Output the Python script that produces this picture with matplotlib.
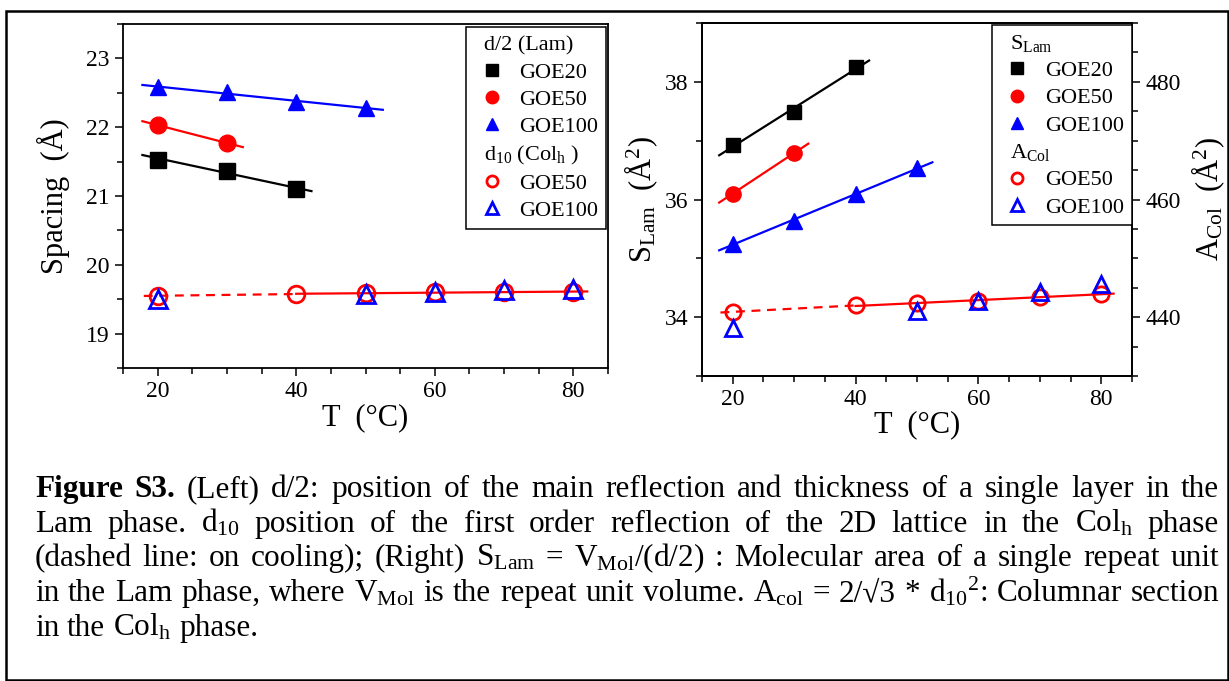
import numpy as np
import matplotlib
matplotlib.use('Agg')
import matplotlib.pyplot as plt
from matplotlib.lines import Line2D
from matplotlib.ticker import MultipleLocator
from matplotlib.patches import Rectangle

plt.rcParams['font.family'] = ['Liberation Serif', 'DejaVu Serif']
plt.rcParams['mathtext.fontset'] = 'custom'
plt.rcParams['mathtext.rm'] = 'Liberation Serif'
plt.rcParams['mathtext.it'] = 'Liberation Serif:italic'
plt.rcParams['mathtext.bf'] = 'Liberation Serif:bold'

# ---------------- data ----------------
T_lam20 = [20, 30, 40]
T_lam50 = [20, 30]
T_lam100 = [20, 30, 40, 50]
T_col50 = [20, 40, 50, 60, 70, 80]
T_col100 = [20, 50, 60, 70, 80]

# left panel: spacing (Å)
d2_goe20 = [21.53, 21.37, 21.10]
d2_goe50 = [22.03, 21.77]
d2_goe100 = [22.58, 22.51, 22.37, 22.28]
d10_goe50 = [19.55, 19.575, 19.59, 19.60, 19.60, 19.61]
d10_goe100 = [19.51, 19.575, 19.61, 19.63, 19.65]

# right panel: S_Lam (Å^2), A_Col (Å^2)
S_goe20 = [36.93, 37.49, 38.25]
S_goe50 = [36.10, 36.79]
S_goe100 = [35.25, 35.63, 36.10, 36.53]
A_goe50 = [440.9, 442.0, 442.4, 442.7, 443.4, 444.0]
A_goe100 = [438.2, 441.0, 442.7, 444.3, 445.7]

# fitted-line extents (T range)
fit_range_20 = (17.8, 42.2)
fit_range_50 = (17.8, 32.3)
fit_range_100 = (17.8, 52.5)
col_dash_range = (18.0, 40.0)
col_solid_range = (40.0, 82.0)

legend_left_labels = ['d/2 (Lam)', 'GOE20', 'GOE50', 'GOE100',
                      r'd$_{10}$ (Col$_{\mathrm{h}}$ )', 'GOE50', 'GOE100']
legend_right_labels = [r'S$_{\mathrm{Lam}}$', 'GOE20', 'GOE50', 'GOE100',
                       r'A$_{\mathrm{Col}}$', 'GOE50', 'GOE100']

BLUE = '#0000ff'
RED = '#ff0000'
BLACK = '#000000'

fig = plt.figure(figsize=(12.29, 6.81), dpi=100)

W, H = 1229.0, 681.0
def ax_rect(x0, y0, x1, y1):
    return [x0 / W, 1 - y1 / H, (x1 - x0) / W, (y1 - y0) / H]

axL = fig.add_axes(ax_rect(123, 24, 608, 368))
axR = fig.add_axes(ax_rect(702, 23, 1132, 376))
axR2 = axR.twinx()


def fit_line(ax, T, y, rng, color, ls='-'):
    p = np.polyfit(T, y, 1)
    xs = np.array(rng)
    ax.plot(xs, np.polyval(p, xs), color=color, lw=1.6, ls=ls, zorder=2)


def style_axes(ax):
    for s in ax.spines.values():
        s.set_linewidth(1.3)
    ax.tick_params(which='both', direction='out', width=1.1, labelsize=17)
    ax.tick_params(which='major', length=6)
    ax.tick_params(which='minor', length=4)
    ax.xaxis.set_major_locator(MultipleLocator(20))
    ax.xaxis.set_minor_locator(MultipleLocator(5))
    ax.set_xlim(15, 85)
    ax.xaxis.set_ticks_position('bottom')


# ---------------- left panel ----------------
style_axes(axL)
axL.set_ylim(18.5, 23.5)
axL.yaxis.set_major_locator(MultipleLocator(1))
axL.yaxis.set_minor_locator(MultipleLocator(0.5))
axL.yaxis.set_ticks_position('left')

fit_line(axL, T_lam20, d2_goe20, fit_range_20, BLACK)
fit_line(axL, T_lam50, d2_goe50, fit_range_50, RED)
fit_line(axL, T_lam100, d2_goe100, fit_range_100, BLUE)
fit_line(axL, T_col50[:2], d10_goe50[:2], col_dash_range, RED, ls=(0, (4, 3)))
fit_line(axL, T_col50[1:], d10_goe50[1:], col_solid_range, RED)

axL.plot(T_lam20, d2_goe20, 's', color=BLACK, ms=11, zorder=3)
axL.plot(T_lam50, d2_goe50, 'o', color=RED, ms=12, zorder=3)
axL.plot(T_lam100, d2_goe100, '^', color=BLUE, ms=12, zorder=3)
axL.plot(T_col50, d10_goe50, 'o', mfc='none', mec=RED, mew=2, ms=12, zorder=3)
axL.plot(T_col100, d10_goe100, '^', mfc='none', mec=BLUE, mew=2, ms=13, zorder=3)

axL.set_ylabel('Spacing  (Å)', fontsize=22, labelpad=12)
axL.set_xlabel('T  (°C)', fontsize=22, labelpad=1)

hL = [Line2D([], [], ls='none'),
      Line2D([], [], ls='none', marker='s', color=BLACK, ms=8),
      Line2D([], [], ls='none', marker='o', color=RED, ms=9),
      Line2D([], [], ls='none', marker='^', color=BLUE, ms=9),
      Line2D([], [], ls='none'),
      Line2D([], [], ls='none', marker='o', mfc='none', mec=RED, mew=2, ms=8),
      Line2D([], [], ls='none', marker='^', mfc='none', mec=BLUE, mew=2, ms=9)]


def make_legend(ax, handles, labels, anchor, headers):
    leg = ax.legend(handles, labels, loc='upper right', bbox_to_anchor=anchor,
                    bbox_transform=ax.transAxes, borderaxespad=0,
                    fontsize=16, frameon=True, fancybox=False, framealpha=1,
                    edgecolor='black', handlelength=1.6, handletextpad=0.45,
                    labelspacing=0.3, borderpad=0.35)
    leg.get_frame().set_linewidth(1.1)
    for col in leg._legend_handle_box.get_children():
        for row in col.get_children():
            h, t = row.get_children()
            txt = t.get_text()
            if not isinstance(txt, str):
                txt = txt.get_text()
            if txt in headers:
                h.width = 0
    return leg


make_legend(axL, hL, legend_left_labels, (0.996, 0.991),
            [legend_left_labels[0], legend_left_labels[4]])

# ---------------- right panel ----------------
style_axes(axR)
axR.set_ylim(33, 39)
axR.yaxis.set_major_locator(MultipleLocator(2))
axR.yaxis.set_minor_locator(MultipleLocator(1))
axR.yaxis.set_ticks_position('left')
axR2.set_ylim(430, 490)
axR2.yaxis.set_major_locator(MultipleLocator(20))
axR2.yaxis.set_minor_locator(MultipleLocator(5))
axR2.tick_params(which='both', direction='out', width=1.1, labelsize=17)
axR2.tick_params(which='major', length=6)
axR2.tick_params(which='minor', length=4)
for s in axR2.spines.values():
    s.set_linewidth(1.3)

fit_line(axR, T_lam20, S_goe20, fit_range_20, BLACK)
fit_line(axR, T_lam50, S_goe50, fit_range_50, RED)
fit_line(axR, T_lam100, S_goe100, fit_range_100, BLUE)
axR.plot(T_lam20, S_goe20, 's', color=BLACK, ms=10, zorder=3)
axR.plot(T_lam50, S_goe50, 'o', color=RED, ms=11, zorder=3)
axR.plot(T_lam100, S_goe100, '^', color=BLUE, ms=11, zorder=3)

fit_line(axR2, T_col50[:2], A_goe50[:2], col_dash_range, RED, ls=(0, (4, 3)))
fit_line(axR2, T_col50[1:], A_goe50[1:], col_solid_range, RED)
axR2.plot(T_col50, A_goe50, 'o', mfc='none', mec=RED, mew=2, ms=11, zorder=3)
axR2.plot(T_col100, A_goe100, '^', mfc='none', mec=BLUE, mew=2, ms=12, zorder=3)

axR.set_ylabel(r'S$_{\mathrm{Lam}}$  (Å$^{2}$)', fontsize=22, labelpad=4)
axR2.set_ylabel(r'A$_{\mathrm{Col}}$  (Å$^{2}$)', fontsize=22, labelpad=6)
axR.set_xlabel('T  (°C)', fontsize=22, labelpad=0)

hR = [Line2D([], [], ls='none'),
      Line2D([], [], ls='none', marker='s', color=BLACK, ms=8),
      Line2D([], [], ls='none', marker='o', color=RED, ms=9),
      Line2D([], [], ls='none', marker='^', color=BLUE, ms=9),
      Line2D([], [], ls='none'),
      Line2D([], [], ls='none', marker='o', mfc='none', mec=RED, mew=2, ms=8),
      Line2D([], [], ls='none', marker='^', mfc='none', mec=BLUE, mew=2, ms=9)]
make_legend(axR2, hR, legend_right_labels, (1.0, 0.994),
            [legend_right_labels[0], legend_right_labels[4]])

# ---------------- caption ----------------
caption_lines = [
    ([('Figure', True), ('S3.', True), ('(Left)', False), ('d/2:', False), ('position', False),
      ('of', False), ('the', False), ('main', False), ('reflection', False), ('and', False),
      ('thickness', False), ('of', False), ('a', False), ('single', False), ('layer', False),
      ('in', False), ('the', False)], True),
    ([(w, False) for w in ['Lam', 'phase.', r'd$_{10}$', 'position', 'of', 'the', 'first',
                           'order', 'reflection', 'of', 'the', '2D', 'lattice', 'in', 'the',
                           r'Col$_{\mathrm{h}}$', 'phase']], True),
    ([(w, False) for w in ['(dashed', 'line:', 'on', 'cooling);', '(Right)',
                           r'S$_{\mathrm{Lam}}$', '=', r'V$_{\mathrm{Mol}}$/(d/2)', ':',
                           'Molecular', 'area', 'of', 'a', 'single', 'repeat', 'unit']], True),
    ([(w, False) for w in ['in', 'the', 'Lam', 'phase,', 'where', r'V$_{\mathrm{Mol}}$', 'is',
                           'the', 'repeat', 'unit', 'volume.', r'A$_{\mathrm{col}}$', '=',
                           '2/√3', '*', r'd$_{10}{}^{2}$:', 'Columnar', 'section']], True),
    ([(w, False) for w in ['in', 'the', r'Col$_{\mathrm{h}}$', 'phase.']], False),
]
baselines = [497, 532, 566, 601, 636]
X0, X1 = 35.0, 1219.0
CAP_SIZE = 22.5

fig.canvas.draw()
renderer = fig.canvas.get_renderer()
for (words, justify), yb in zip(caption_lines, baselines):
    texts = []
    widths = []
    for w, bold in words:
        t = fig.text(0, 1 - yb / H, w, fontsize=CAP_SIZE,
                     fontweight='bold' if bold else 'normal', va='baseline', ha='left')
        widths.append(t.get_window_extent(renderer).width)
        texts.append(t)
    if justify:
        gap = (X1 - X0 - sum(widths)) / (len(words) - 1)
    else:
        gap = 0.25 * CAP_SIZE * 100 / 72
    x = X0
    for t, wd in zip(texts, widths):
        t.set_x(x / W)
        x += wd + gap

# figure border
fig.add_artist(Rectangle((6 / W, 1 / H), (1227.5 - 6) / W, (680 - 11) / H,
                         transform=fig.transFigure, fill=False, lw=1.8, color='black'))

fig.savefig('out.png', dpi=100)
